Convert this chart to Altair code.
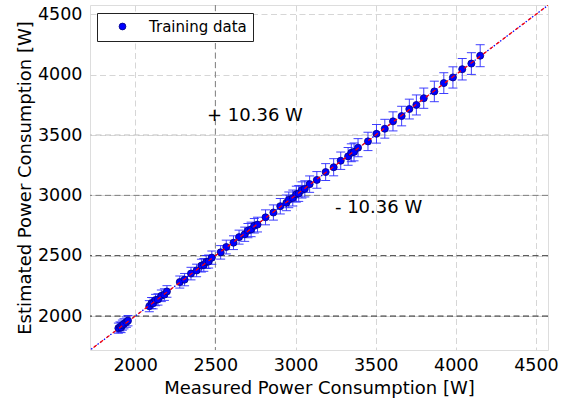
import altair as alt
import pandas as pd

# Measured vs. estimated power consumption of the training samples [W]
measured = [
    1895, 1905, 1912, 1920, 1930, 1945, 1955,
    2088, 2102, 2112, 2127, 2142, 2163, 2182, 2198,
    2278,
    2308, 2348, 2383, 2413, 2428, 2443, 2458, 2478,
    2533, 2568, 2613, 2648, 2683, 2703, 2723, 2743, 2763,
    2813, 2862,
    2905, 2943, 2958, 2983, 3005, 3020, 3040, 3058, 3088,
    3133, 3188, 3238, 3282, 3328, 3348, 3365, 3390,
    3452, 3505, 3557, 3608, 3662, 3710, 3754, 3800, 3866,
    3925, 3982, 4040, 4097, 4152,
]
estimated = [
    1900, 1910, 1905, 1925, 1936, 1950, 1962,
    2082, 2108, 2106, 2133, 2138, 2168, 2178, 2204,
    2282,
    2302, 2352, 2378, 2418, 2424, 2448, 2452, 2484,
    2528, 2572, 2608, 2654, 2678, 2708, 2718, 2748, 2758,
    2818, 2858,
    2910, 2938, 2963, 2978, 3010, 3016, 3045, 3054, 3093,
    3128, 3193, 3233, 3287, 3323, 3353, 3360, 3395,
    3447, 3510, 3552, 3613, 3657, 3715, 3749, 3805, 3861,
    3930, 3977, 4045, 4092, 4157,
]
errors = [
    42, 42, 42, 42, 42, 43, 43,
    46, 46, 46, 47, 47, 48, 48, 48,
    50,
    51, 52, 52, 53, 53, 54, 54, 55,
    56, 57, 57, 58, 59, 59, 60, 60, 61,
    62, 63,
    64, 65, 65, 66, 66, 66, 67, 67, 68,
    69, 70, 71, 72, 73, 74, 74, 75,
    76, 77, 78, 79, 81, 82, 83, 84, 85,
    86, 88, 89, 90, 91,
]

# Ideal estimator: estimated == measured
ideal = [1700, 4600]

# Error-band annotations
annot_text = ["+ 10.36 W", "- 10.36 W"]
annot_x = [2448, 3246]
annot_y = [3614, 2853]

tick_values = [2000, 2500, 3000, 3500, 4000, 4500]

FONT = "DejaVu Sans"

df = pd.DataFrame({
    "measured": measured,
    "estimated": estimated,
    "err": errors,
    "series": ["Training data"] * len(measured),
})
ideal_df = pd.DataFrame({"m": ideal, "e": ideal})
annot_df = pd.DataFrame({"label": annot_text, "x": annot_x, "y": annot_y})

x_scale = alt.Scale(domain=[1718, 4575], nice=False, zero=False)
y_scale = alt.Scale(domain=[1719, 4577], nice=False, zero=False)

X_TITLE = "Measured Power Consumption [W]"
Y_TITLE = "Estimated Power Consumption [W]"

x_axis = alt.Axis(
    values=tick_values, format="d", title=X_TITLE,
    labelFontSize=17.5, titleFontSize=18, labelPadding=6, titlePadding=6,
    ticks=False, domain=False, grid=True, gridDash=[6, 3.5],
    gridColor="#d6d6d6", gridWidth=1, labelColor="#000", titleColor="#000",
    titleFontWeight="normal", labelFont=FONT, titleFont=FONT,
)
y_axis = alt.Axis(
    values=tick_values, format="d", title=Y_TITLE,
    labelFontSize=17.5, titleFontSize=18, labelPadding=8, titlePadding=3,
    ticks=False, domain=False, grid=True, gridDash=[6, 3.5],
    gridColor="#d6d6d6", gridWidth=1, labelColor="#000", titleColor="#000",
    titleFontWeight="normal", labelFont=FONT, titleFont=FONT,
)


def xenc(field):
    return alt.X(field, scale=x_scale, axis=x_axis)


def yenc(field):
    return alt.Y(field, scale=y_scale, axis=y_axis)


base = alt.Chart(df)


def hrule(level, color):
    return alt.Chart(pd.DataFrame({"v": [level]})).mark_rule(
        color=color, strokeDash=[6, 3.5], strokeWidth=1
    ).encode(y=yenc("v:Q"))


def vrule(level, color):
    return alt.Chart(pd.DataFrame({"v": [level]})).mark_rule(
        color=color, strokeDash=[6, 3.5], strokeWidth=1
    ).encode(x=xenc("v:Q"))


# Darker reference lines
emph = [
    hrule(2000, "#1a1a1a"),
    hrule(2500, "#303030"),
    hrule(3000, "#7a7a7a"),
    hrule(3500, "#bdbdbd"),
    vrule(2500, "#808080"),
]

BAR_COLOR = "#2a2aff"

bars = base.transform_calculate(
    lo="datum.estimated - datum.err", hi="datum.estimated + datum.err"
).mark_rule(color=BAR_COLOR, strokeWidth=1, opacity=0.9).encode(
    x=xenc("measured:Q"),
    y=yenc("lo:Q"),
    y2="hi:Q",
)
caps_lo = base.transform_calculate(
    lo="datum.estimated - datum.err"
).mark_tick(color=BAR_COLOR, size=9, thickness=1, orient="horizontal", opacity=0.9).encode(
    x=xenc("measured:Q"),
    y=yenc("lo:Q"),
)
caps_hi = base.transform_calculate(
    hi="datum.estimated + datum.err"
).mark_tick(color=BAR_COLOR, size=9, thickness=1, orient="horizontal", opacity=0.9).encode(
    x=xenc("measured:Q"),
    y=yenc("hi:Q"),
)

points = base.mark_circle(
    size=50, opacity=1, stroke="#000080", strokeWidth=0.8
).encode(
    x=xenc("measured:Q"),
    y=yenc("estimated:Q"),
    color=alt.Color(
        "series:N",
        scale=alt.Scale(range=["#0000ff"]),
        legend=alt.Legend(
            title=None, orient="none", legendX=7, legendY=8,
            strokeColor="#222", fillColor="white", padding=6,
            cornerRadius=0, labelFontSize=15, labelFont=FONT,
            labelColor="#000", symbolType="circle", symbolSize=46,
            symbolStrokeColor="#000080", symbolStrokeWidth=0.8,
            symbolOffset=12, labelOffset=19,
        ),
    ),
)

line_red = alt.Chart(ideal_df).mark_line(
    color="#ff0000", strokeDash=[4, 4], strokeWidth=1.2, clip=True
).encode(x=xenc("m:Q"), y=yenc("e:Q"))
line_blue = alt.Chart(ideal_df).mark_line(
    color="#0000ff", strokeDash=[1.5, 2.5], strokeWidth=1.3, clip=True,
    strokeDashOffset=-5,
).encode(x=xenc("m:Q"), y=yenc("e:Q"))

labels = alt.Chart(annot_df).mark_text(
    align="left", baseline="alphabetic", fontSize=18, font=FONT, color="#000"
).encode(
    x=xenc("x:Q"),
    y=yenc("y:Q"),
    text="label:N",
)

chart = alt.layer(
    *emph, bars, caps_lo, caps_hi, points, line_blue, line_red, labels
).properties(
    width=458, height=345,
    autosize=alt.AutoSizeParams(type="none"),
    padding={"left": 90, "top": 5, "right": 17, "bottom": 50},
    background="white",
).configure_view(
    stroke="#444", strokeWidth=1
).configure(font=FONT)

chart.save("out.html", embed_options={"renderer": "svg", "actions": False})
